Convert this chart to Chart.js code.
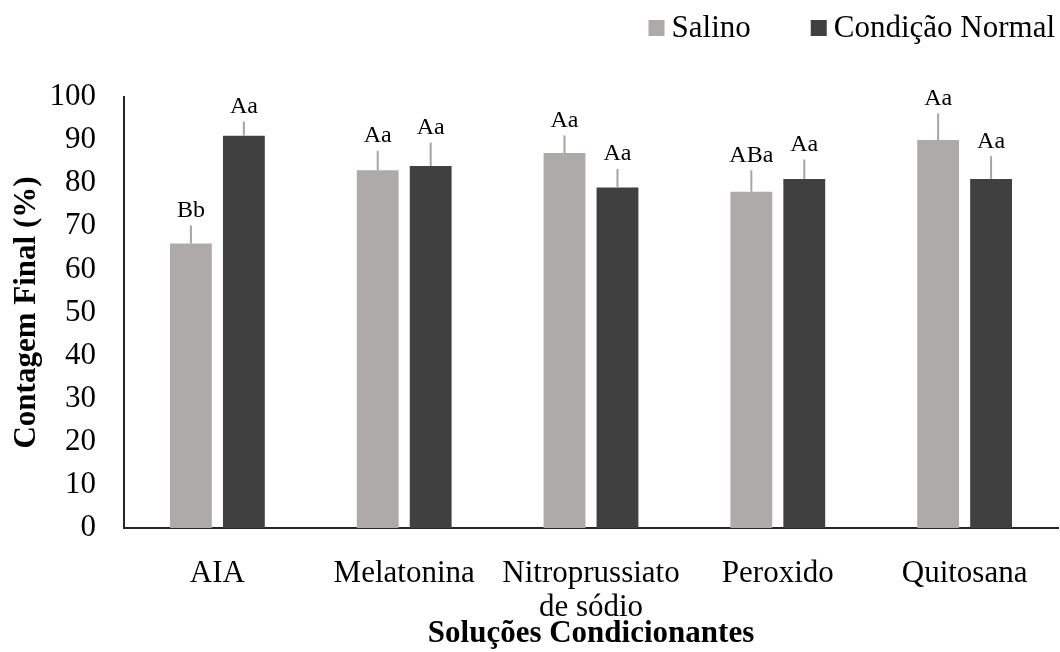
<!DOCTYPE html>
<html>
<head>
<meta charset="utf-8">
<script src="https://cdn.jsdelivr.net/npm/chart.js@4/dist/chart.umd.min.js"></script>
<style>
html,body{margin:0;padding:0;background:#fff;}
canvas{display:block;}
</style>
</head>
<body>
<canvas id="c" width="1060" height="652"></canvas>
<script>
const categories = ['AIA', 'Melatonina', ['Nitroprussiato', 'de sódio'], 'Peroxido', 'Quitosana'];
const seriesNames = ['Salino', 'Condição Normal'];
const salino = [66, 83, 87, 78, 90];
const normal = [91, 84, 79, 81, 81];
const salinoErr = [4.2, 4.5, 4.1, 5.0, 6.2];
const normalErr = [3.3, 5.4, 4.3, 4.5, 5.3];
const salinoLetters = ['Bb', 'Aa', 'Aa', 'ABa', 'Aa'];
const normalLetters = ['Aa', 'Aa', 'Aa', 'Aa', 'Aa'];
const yTicks = [0, 10, 20, 30, 40, 50, 60, 70, 80, 90, 100];

const SERIF = "'Liberation Serif', 'Times New Roman', serif";
const colors = ['#aeaaaa', '#404040'];

const errorBarPlugin = {
  id: 'errorBars',
  afterDatasetsDraw(chart) {
    const ctx = chart.ctx;
    const y = chart.scales.y;
    chart.data.datasets.forEach((ds, di) => {
      const meta = chart.getDatasetMeta(di);
      meta.data.forEach((bar, i) => {
        const v = ds.data[i];
        const top = y.getPixelForValue(v + ds.errors[i]);
        ctx.save();
        ctx.strokeStyle = '#a5a5a5';
        ctx.lineWidth = 2;
        ctx.beginPath();
        ctx.moveTo(bar.x, bar.y);
        ctx.lineTo(bar.x, top);
        ctx.stroke();
        ctx.fillStyle = '#000';
        ctx.font = '24px ' + SERIF;
        ctx.textAlign = 'center';
        ctx.textBaseline = 'alphabetic';
        ctx.fillText(ds.letters[i], bar.x, top - 8.5);
        ctx.restore();
      });
    });
  }
};

const legendPlugin = {
  id: 'customLegend',
  afterDraw(chart) {
    const ctx = chart.ctx;
    ctx.save();
    ctx.font = '31px ' + SERIF;
    ctx.textBaseline = 'middle';
    ctx.textAlign = 'left';
    const ds = chart.data.datasets;
    let xEnd = 1055;
    const cy = 28;
    const pos = [];
    for (let i = ds.length - 1; i >= 0; i--) {
      const w = ctx.measureText(ds[i].label).width;
      const tx = xEnd - w;
      const bx = tx - 7 - 16;
      pos[i] = {tx, bx};
      xEnd = bx - 60;
    }
    ds.forEach((d, i) => {
      ctx.fillStyle = d.backgroundColor;
      ctx.fillRect(pos[i].bx, cy - 8, 16, 16);
      ctx.fillStyle = '#000';
      ctx.fillText(d.label, pos[i].tx, cy + 1);
    });
    ctx.restore();
  }
};

new Chart(document.getElementById('c'), {
  type: 'bar',
  data: {
    labels: categories,
    datasets: [
      { label: seriesNames[0], data: salino, errors: salinoErr, letters: salinoLetters, backgroundColor: colors[0] },
      { label: seriesNames[1], data: normal, errors: normalErr, letters: normalLetters, backgroundColor: colors[1] }
    ]
  },
  options: {
    responsive: false,
    animation: false,
    devicePixelRatio: 1,
    layout: { padding: { top: 97, right: 2, left: 0, bottom: 0 } },
    datasets: { bar: { barPercentage: 0.79, categoryPercentage: 0.567 } },
    plugins: {
      legend: { display: false },
      tooltip: { enabled: false }
    },
    scales: {
      x: {
        grid: { display: false, drawTicks: false },
        border: { display: true, color: '#262626', width: 2 },
        ticks: { color: '#000', font: { family: SERIF, size: 31, lineHeight: 1.1 }, padding: 29, maxRotation: 0, autoSkip: false },
        title: { display: true, text: 'Soluções Condicionantes', color: '#000', font: { family: SERIF, size: 31, weight: 'bold', lineHeight: 1.08 }, padding: { top: 0, bottom: 1 } },
        afterFit(scale) { scale.height = 124; }
      },
      y: {
        min: 0, max: 100,
        afterBuildTicks(scale) { scale.ticks = yTicks.map(v => ({ value: v })); },
        grid: { display: false, drawTicks: false },
        border: { display: true, color: '#262626', width: 2 },
        ticks: { color: '#000', font: { family: SERIF, size: 31 }, padding: 28 },
        title: { display: true, text: 'Contagem Final (%)', color: '#000', font: { family: SERIF, size: 31, weight: 'bold', lineHeight: 1.08 }, padding: { top: 10, bottom: 0 } },
        afterFit(scale) { scale.width = 124; }
      }
    }
  },
  plugins: [errorBarPlugin, legendPlugin]
});
</script>
</body>
</html>
